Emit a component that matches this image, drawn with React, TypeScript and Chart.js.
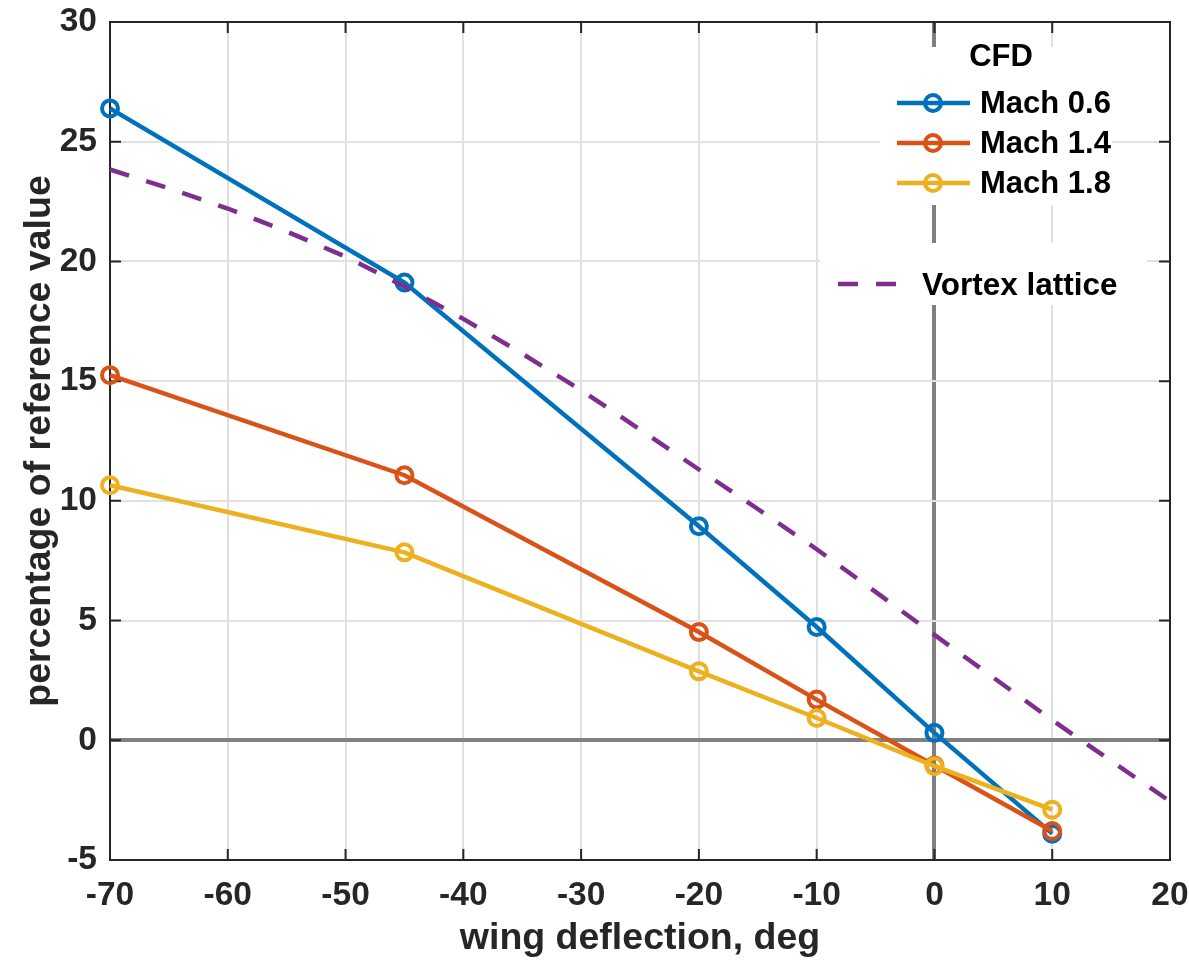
import React, { useEffect, useRef } from "react";
import { Chart, registerables } from "chart.js";

Chart.register(...registerables);

// CFD results at the computed wing deflections
const deflection = [-70, -45, -20, -10, 0, 10];
const mach06 = [26.39, 19.12, 8.94, 4.73, 0.31, -3.9];
const mach14 = [15.25, 11.07, 4.52, 1.7, -1.05, -3.79];
const mach18 = [10.65, 7.85, 2.88, 0.93, -1.08, -2.9];

// Vortex-lattice prediction
const vlDeflection = [-70, -65, -60, -55, -50, -45, -40, -35, -30, -25, -20, -15, -10, -5, 0, 5, 10, 15, 20];
const vortexLattice = [23.84, 23.05, 22.21, 21.25, 20.2, 18.95, 17.6, 16.15, 14.62, 12.98, 11.31, 9.66, 7.98, 6.2, 4.4, 2.62, 0.84, -0.86, -2.55];

const xTicks = [-70, -60, -50, -40, -30, -20, -10, 0, 10, 20];
const yTicks = [-5, 0, 5, 10, 15, 20, 25, 30];

const BLUE = "#0072BD";
const ORANGE = "#D95319";
const YELLOW = "#EDB120";
const PURPLE = "#7E2F8E";
const AXIS = "#262626";
const GRID = "#e1e1e1";
const ZERO = "#808080";
const FONT = "'Liberation Sans', Arial, Helvetica, sans-serif";

const cfdSeries = [
  { label: "Mach 0.6", values: mach06, color: BLUE },
  { label: "Mach 1.4", values: mach14, color: ORANGE },
  { label: "Mach 1.8", values: mach18, color: YELLOW },
];

const toPoints = (xs: number[], ys: number[]) => xs.map((x, i) => ({ x, y: ys[i] }));

// Inward tick marks on all four sides plus the top/right box edges
const framePlugin = {
  id: "frame",
  beforeDatasetsDraw(chart: any) {
    const { ctx, chartArea: a, scales } = chart;
    const len = 11;
    ctx.save();
    ctx.strokeStyle = AXIS;
    ctx.lineWidth = 2;
    ctx.beginPath();
    xTicks.forEach((v) => {
      const px = scales.x.getPixelForValue(v);
      ctx.moveTo(px, a.bottom);
      ctx.lineTo(px, a.bottom - len);
      ctx.moveTo(px, a.top);
      ctx.lineTo(px, a.top + len);
    });
    yTicks.forEach((v) => {
      const py = scales.y.getPixelForValue(v);
      ctx.moveTo(a.left, py);
      ctx.lineTo(a.left + len, py);
      ctx.moveTo(a.right, py);
      ctx.lineTo(a.right - len, py);
    });
    ctx.stroke();
    ctx.beginPath();
    ctx.moveTo(a.left, a.top);
    ctx.lineTo(a.right, a.top);
    ctx.lineTo(a.right, a.bottom);
    ctx.stroke();
    ctx.restore();
  },
  afterDraw(chart: any) {
    const { ctx } = chart;
    ctx.save();
    // CFD legend
    ctx.fillStyle = "#ffffff";
    ctx.fillRect(880, 47, 232, 158);
    ctx.fillStyle = "#000000";
    ctx.font = `bold 31px ${FONT}`;
    ctx.textBaseline = "middle";
    ctx.textAlign = "center";
    ctx.fillText("CFD", 1001, 57);
    ctx.textAlign = "left";
    cfdSeries.forEach((s, i) => {
      const y = 103 + i * 40;
      ctx.strokeStyle = s.color;
      ctx.lineWidth = 4.5;
      ctx.setLineDash([]);
      ctx.beginPath();
      ctx.moveTo(897, y);
      ctx.lineTo(970, y);
      ctx.stroke();
      ctx.lineWidth = 4;
      ctx.beginPath();
      ctx.arc(933, y, 8, 0, Math.PI * 2);
      ctx.stroke();
      ctx.fillStyle = "#000000";
      ctx.fillText(s.label, 980, y + 1);
    });
    // Vortex lattice legend
    ctx.fillStyle = "#ffffff";
    ctx.fillRect(820, 243, 327, 62);
    ctx.strokeStyle = PURPLE;
    ctx.lineWidth = 4.5;
    ctx.setLineDash([20, 18]);
    ctx.beginPath();
    ctx.moveTo(838, 284);
    ctx.lineTo(897, 284);
    ctx.stroke();
    ctx.setLineDash([]);
    ctx.fillStyle = "#000000";
    ctx.font = `bold 31.5px ${FONT}`;
    ctx.fillText("Vortex lattice", 922, 286);
    ctx.restore();
  },
};

// Keep tick-label overhang from shrinking the plot area
const noOverhang = (s: any) => {
  s.paddingLeft = 0;
  s.paddingRight = 0;
  s.paddingTop = 0;
  s.paddingBottom = 0;
};

export default function App() {
  const canvasRef = useRef<HTMLCanvasElement | null>(null);

  useEffect(() => {
    if (!canvasRef.current) return;
    const lineDs = (label: string, xs: number[], ys: number[], color: string) => ({
      label,
      data: toPoints(xs, ys),
      borderColor: color,
      backgroundColor: color,
      borderWidth: 4.5,
      pointRadius: 8,
      pointBorderWidth: 4,
      pointBorderColor: color,
      pointBackgroundColor: "rgba(0,0,0,0)",
      tension: 0,
      clip: false as const,
    });

    const chart = new Chart(canvasRef.current, {
      type: "line",
      data: {
        datasets: [
          {
            label: "Vortex lattice",
            data: toPoints(vlDeflection, vortexLattice),
            borderColor: PURPLE,
            borderWidth: 4.5,
            borderDash: [20, 18],
            pointRadius: 0,
            tension: 0,
            clip: false as const,
          },
          lineDs(cfdSeries[2].label, deflection, mach18, YELLOW),
          lineDs(cfdSeries[1].label, deflection, mach14, ORANGE),
          lineDs(cfdSeries[0].label, deflection, mach06, BLUE),
        ],
      },
      options: {
        responsive: false,
        animation: false,
        events: [],
        layout: { padding: { left: 0, right: 19, top: 22, bottom: 0 } },
        plugins: {
          legend: { display: false },
          tooltip: { enabled: false },
        },
        scales: {
          x: {
            type: "linear",
            min: -70,
            max: 20,
            afterFit: (s: any) => {
              s.height = 101;
              noOverhang(s);
            },
            afterBuildTicks: (s: any) => {
              s.ticks = xTicks.map((v) => ({ value: v }));
            },
            ticks: {
              padding: 16,
              color: AXIS,
              font: { family: FONT, size: 33.5, weight: "bold" },
              maxRotation: 0,
            },
            grid: {
              drawTicks: false,
              color: (c: any) => (c.tick && c.tick.value === 0 ? ZERO : GRID),
              lineWidth: (c: any) => (c.tick && c.tick.value === 0 ? 4 : 2),
            },
            border: { display: true, color: AXIS, width: 2 },
            title: {
              display: true,
              text: "wing deflection, deg",
              color: AXIS,
              font: { family: FONT, size: 37.5, weight: "bold" },
              padding: { top: 0, bottom: 0 },
            },
          },
          y: {
            type: "linear",
            min: -5,
            max: 30,
            afterFit: (s: any) => {
              s.width = 110;
              noOverhang(s);
            },
            afterBuildTicks: (s: any) => {
              s.ticks = yTicks.map((v) => ({ value: v }));
            },
            ticks: {
              padding: 13,
              color: AXIS,
              font: { family: FONT, size: 33.5, weight: "bold" },
            },
            grid: {
              drawTicks: false,
              color: (c: any) => (c.tick && c.tick.value === 0 ? ZERO : GRID),
              lineWidth: (c: any) => (c.tick && c.tick.value === 0 ? 4 : 2),
            },
            border: { display: true, color: AXIS, width: 2 },
            title: {
              display: true,
              text: "percentage of reference value",
              color: AXIS,
              font: { family: FONT, size: 37.5, weight: "bold" },
              padding: { top: 17, bottom: 0 },
            },
          },
        },
      },
      plugins: [framePlugin],
    } as any);

    return () => chart.destroy();
  }, []);

  return (
    <div style={{ position: "absolute", left: 0, top: 0, width: 1189, height: 961, background: "#ffffff" }}>
      <canvas ref={canvasRef} width={1189} height={961} style={{ display: "block" }} />
    </div>
  );
}
